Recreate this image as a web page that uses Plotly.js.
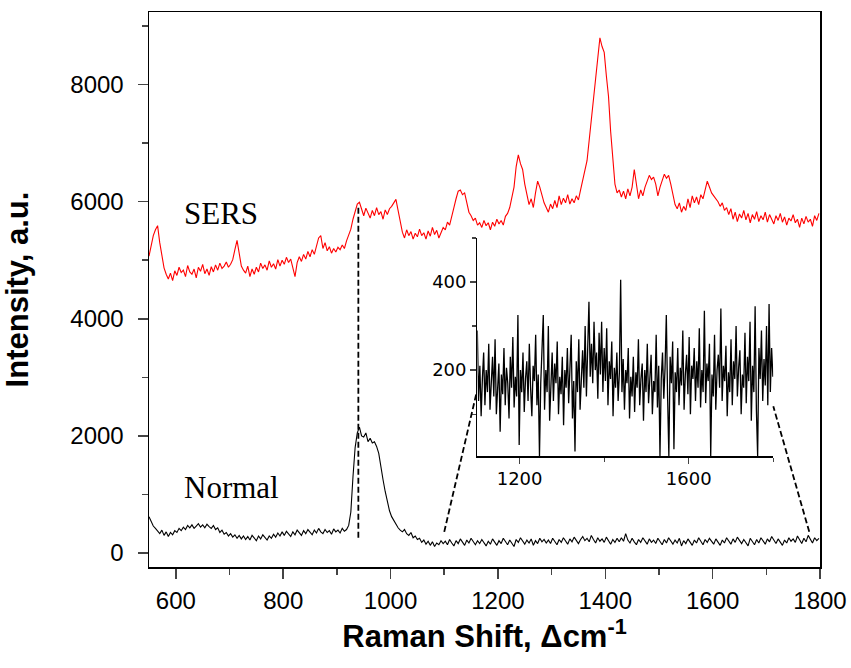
<!DOCTYPE html>
<html>
<head>
<meta charset="utf-8">
<script src="https://cdn.plot.ly/plotly-3.0.1.min.js"></script>
<style>html,body{margin:0;padding:0;background:#fff;}#chart{width:851px;height:668px;}</style>
</head>
<body>
<div id="chart"></div>
<script>
// Main spectra sampled every 4 cm-1 starting at 550
const mainStart = 550;
const mainStep = 4;
const sersValues = [
 5070,5250,5420,5520,5590,5300,5050,4870,4760,4680,4780,4650,4820,
 4740,4880,4790,4830,4720,4910,4800,4760,4850,4700,4880,4810,4930,4770,4850,4740,4890,4800,4920,4830,4950,4860,4900,4970,4880,
 4930,5010,5180,5340,5120,4900,4830,
 4780,4900,4720,4850,4760,4880,4800,4950,4860,4920,4830,4990,4880,4940,4850,5010,4900,5000,
 4930,5050,4960,5020,4880,4720,4960,5060,4980,5100,5020,5150,5060,5180,5100,5250,5380,5420,5200,5300,5160,5230,5120,5200,5140,
 5220,5180,5260,5200,5330,5420,5530,5700,5820,5960,5990,
 5880,5760,5890,5800,5720,5850,5760,5900,5780,5830,5700,5860,5780,5880,
 5920,5980,6040,5850,5650,
 5480,5380,5520,5420,5490,5360,5460,5400,5530,5420,5470,5360,5500,5410,5560,5440,5510,5380,5490,5560,
 5520,5650,5600,5780,5900,6050,6180,6200,6120,6150,5950,5820,5760,5680,5720,5600,5640,
 5560,5680,5590,5640,5520,5650,5580,5700,5620,5680,5600,5750,5800,5900,
 6050,6250,6600,6800,6650,6550,6300,6150,5950,6050,5900,6150,6350,6250,6100,5980,5900,
 5820,5960,5880,6020,5900,6100,5950,6060,5980,6120,5960,6050,5980,6100,6030,6200,
 6350,6500,6700,7050,7350,7750,8100,8450,8800,8650,8550,8150,7800,7200,6700,6300,6150,
 6200,6080,6180,6050,6220,6100,6250,6550,6250,6050,6200,6100,6250,6350,6450,6380,6420,6300,6100,
 6250,6380,6470,6400,6450,6300,6100,5950,
 5880,5980,5820,5920,5850,6050,5900,6100,5980,6080,5950,6120,6050,6200,6350,6250,6150,6100,6050,6000,5920,5980,5850,5900,
 5780,5880,5700,5820,5660,5790,5720,5850,5690,5800,5640,5780,5700,5830,5660,5760,5690,5820,5650,5780,
 5700,5620,5760,5680,5800,5650,5740,5600,5720,5670,5780,5640,5700,5560,5720,5620,5750,5650,5700,5580,5760,5680,5800
];
const normalValues = [
 620,540,460,420,380,330,390,300,360,280,350,310,380,
 350,420,380,440,400,470,430,480,420,460,500,440,480,430,490,450,420,470,400,430,350,390,320,350,290,
 330,270,310,250,300,240,290,
 230,280,220,300,250,210,290,240,310,260,220,290,250,320,270,340,290,360,
 300,370,320,280,360,310,390,340,300,380,330,400,350,310,390,340,420,360,330,400,350,380,320,410,360,
 390,340,420,370,400,470,700,1300,1800,2050,2150,
 2000,1980,2050,1900,1960,1880,1900,1820,1700,1450,1250,1050,880,720,
 620,560,480,430,390,
 360,400,330,300,350,260,290,230,250,180,220,150,200,130,190,110,170,140,210,160,
 200,140,230,170,120,210,160,240,180,130,220,170,250,190,140,210,160,
 230,170,120,200,150,240,180,130,210,160,250,190,140,220,
 170,110,230,180,260,200,150,220,170,240,130,210,160,250,190,230,170,
 220,160,250,190,140,230,180,260,200,150,240,190,270,210,160,230,
 280,210,250,190,300,230,170,260,200,240,180,270,210,150,230,180,250,
 190,260,200,330,220,170,250,190,140,230,180,260,200,150,240,180,220,160,250,
 190,140,230,170,260,200,150,220,
 170,250,120,210,160,240,180,130,220,170,260,190,140,230,180,250,200,150,240,180,130,220,170,260,
 200,150,240,180,270,210,160,230,180,120,250,190,140,230,170,260,200,150,240,190,
 280,210,160,240,180,130,220,170,260,200,240,180,290,220,160,250,190,300,220,170,260,210,250
];
// Inset (normal spectrum, magnified) sampled every 3 cm-1 starting at 1100
const insetStart = 1100;
const insetStep = 3;
const insetValues = [
 290,130,210,95,180,240,120,200,150,260,
 110,190,230,140,270,100,175,215,60,190,
 145,250,120,205,170,90,230,160,275,115,
 185,140,325,30,200,150,240,105,180,220,
 130,260,160,95,210,175,280,120,190,5,
 170,230,325,110,200,150,300,85,190,240,
 130,215,170,265,100,185,145,230,75,200,
 160,250,125,195,280,90,175,15,220,150,
 270,110,205,245,160,300,140,230,355,185,
 260,170,310,200,240,135,285,190,310,150,
 250,175,295,120,220,180,265,95,205,160,
 240,130,195,405,150,225,110,200,170,250,
 90,185,140,230,105,195,160,270,120,180,
 215,85,200,150,260,125,190,235,100,175,
 150,280,115,210,5,180,240,135,205,325,
 140,5,230,170,265,20,195,150,250,120,
 205,165,290,110,190,235,145,275,100,210,
 180,250,130,220,160,295,115,200,150,335,
 125,215,175,260,5,190,140,280,110,200,
 235,160,340,130,210,175,255,95,195,150,
 270,120,220,180,300,140,205,245,100,190,
 160,285,125,230,175,310,85,210,150,345,
 110,5,250,180,290,130,225,165,300,120,
 350,150,250,185
];
const mainXTicks = [600,800,1000,1200,1400,1600,1800];
const mainYTicks = [0,2000,4000,6000,8000];
const insetXTicks = [1200,1600];
const insetYTicks = [200,400];
const labels = {sers: 'SERS', normal: 'Normal'};

const mainX = sersValues.map((_, i) => mainStart + mainStep * i);
const insetX = insetValues.map((_, i) => insetStart + insetStep * i);

const sans = 'Liberation Sans, Arial, sans-serif';
const serif = 'Liberation Serif, Times New Roman, serif';

const traces = [
  {x: mainX, y: sersValues, type: 'scatter', mode: 'lines', line: {color: '#ff0000', width: 1.1}, xaxis: 'x', yaxis: 'y', hoverinfo: 'skip'},
  {x: mainX, y: normalValues, type: 'scatter', mode: 'lines', line: {color: '#000000', width: 1.1}, xaxis: 'x', yaxis: 'y', hoverinfo: 'skip'},
  {x: insetX, y: insetValues, type: 'scatter', mode: 'lines', line: {color: '#000000', width: 1.3}, xaxis: 'x2', yaxis: 'y2', hoverinfo: 'skip'}
];

const dashStyle = {color: '#000', width: 1.8, dash: '6px,3px'};

const layout = {
  width: 851, height: 668,
  margin: {l: 149, r: 31, t: 12, b: 101},
  paper_bgcolor: '#fff', plot_bgcolor: 'rgba(0,0,0,0)',
  showlegend: false,
  font: {family: sans, color: '#000'},
  xaxis: {
    range: [550, 1800], tickvals: mainXTicks, ticks: 'outside', ticklen: 10, tickwidth: 1.5,
    minor: {dtick: 100, tick0: 0, ticks: 'outside', ticklen: 6, tickwidth: 1.5},
    showline: true, linewidth: 1.5, linecolor: '#000', mirror: true,
    showgrid: false, zeroline: false, tickfont: {family: sans, size: 24},
    ticklabelstandoff: 2,
    title: {text: '<b>Raman Shift, Δcm<sup>-1</sup></b>', font: {family: sans, size: 31}, standoff: 8}
  },
  yaxis: {
    range: [-240, 9240], tickvals: mainYTicks, ticks: 'outside', ticklen: 10, tickwidth: 1.5,
    minor: {dtick: 1000, tick0: 0, ticks: 'outside', ticklen: 6, tickwidth: 1.5},
    showline: true, linewidth: 1.5, linecolor: '#000', mirror: true,
    showgrid: false, zeroline: false, tickfont: {family: sans, size: 24},
    ticklabelstandoff: 9,
    title: {text: '<b>Intensity, a.u.</b>', font: {family: sans, size: 31}, standoff: 36}
  },
  xaxis2: {
    domain: [0.4893, 0.9304], anchor: 'y2', range: [1100, 1800], tickvals: insetXTicks,
    ticks: 'outside', ticklen: 6, tickwidth: 1.2,
    minor: {dtick: 200, tick0: 1200, ticks: 'outside', ticklen: 4, tickwidth: 1.2},
    showline: true, linewidth: 1.2, linecolor: '#000', mirror: false,
    showgrid: false, zeroline: false, tickfont: {family: 'DejaVu Sans, sans-serif', size: 18}
  },
  yaxis2: {
    domain: [0.1993, 0.5928], anchor: 'x2', range: [4, 500], tickvals: insetYTicks,
    ticks: 'outside', ticklen: 6, tickwidth: 1.2,
    minor: {dtick: 100, tick0: 0, ticks: 'outside', ticklen: 4, tickwidth: 1.2},
    showline: true, linewidth: 1.2, linecolor: '#000', mirror: false,
    showgrid: false, zeroline: false, tickfont: {family: 'DejaVu Sans, sans-serif', size: 18}
  },
  shapes: [
    {type: 'line', xref: 'x', yref: 'y', x0: 940, x1: 940, y0: 260, y1: 5900, line: dashStyle},
    {type: 'line', xref: 'x', yref: 'y', x0: 1100, x1: 1160, y0: 360, y1: 2730, line: dashStyle},
    {type: 'line', xref: 'x', yref: 'y', x0: 1780, x1: 1713, y0: 360, y1: 2505, line: dashStyle}
  ],
  annotations: [
    {text: labels.sers, xref: 'x', yref: 'y', x: 684, y: 5800, showarrow: false, xanchor: 'center', yanchor: 'middle', font: {family: serif, size: 31, color: '#000'}},
    {text: labels.normal, xref: 'x', yref: 'y', x: 704, y: 1120, showarrow: false, xanchor: 'center', yanchor: 'middle', font: {family: serif, size: 31, color: '#000'}}
  ]
};

Plotly.newPlot('chart', traces, layout, {staticPlot: true, displayModeBar: false});
</script>
</body>
</html>
